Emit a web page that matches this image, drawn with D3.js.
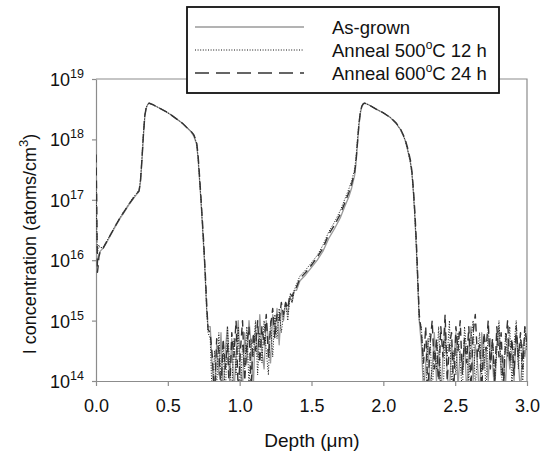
<!DOCTYPE html>
<html>
<head>
<meta charset="utf-8">
<script src="https://cdn.jsdelivr.net/npm/d3@7"></script>
<style>
  body { margin: 0; background: #fff; }
  svg { display: block; font-family: 'Liberation Sans', Arial, sans-serif; }
</style>
</head>
<body>
<svg id="chart" width="547" height="455"></svg>
<script>
// depth grid (um), shared by all three profiles
var depth = [
  0, 0.005, 0.01, 0.015, 0.02, 0.03, 0.05, 0.08, 0.11, 0.14, 0.17, 0.2, 0.23, 0.26, 0.28, 0.3,
  0.31, 0.32, 0.33, 0.34, 0.35, 0.36, 0.37, 0.38, 0.4, 0.44, 0.48, 0.52, 0.56, 0.6, 0.63, 0.66,
  0.68, 0.7, 0.71, 0.72, 0.73, 0.74, 0.75, 0.76, 0.77, 0.78,
  // first background region
  0.795, 0.81, 0.825, 0.84, 0.855, 0.87, 0.885, 0.9, 0.915, 0.93, 0.945, 0.96, 0.975, 0.99,
  1.005, 1.02, 1.035, 1.05, 1.065, 1.08, 1.095, 1.11, 1.125, 1.14, 1.155, 1.17, 1.185, 1.2,
  1.215, 1.23, 1.245, 1.26, 1.275, 1.29, 1.305, 1.32, 1.335, 1.35, 1.365, 1.38, 1.395,
  // second implant
  1.42, 1.46, 1.5, 1.54, 1.58, 1.62, 1.66, 1.7, 1.73, 1.76, 1.78, 1.8, 1.81, 1.82, 1.83, 1.84,
  1.85, 1.86, 1.87, 1.9, 1.95, 2.0, 2.05, 2.09, 2.12, 2.15, 2.17, 2.19, 2.2, 2.21, 2.22, 2.23,
  2.24, 2.25,
  // tail background
  2.265, 2.28, 2.295, 2.31, 2.325, 2.34, 2.355, 2.37, 2.385, 2.4, 2.415, 2.43, 2.445, 2.46,
  2.475, 2.49, 2.505, 2.52, 2.535, 2.55, 2.565, 2.58, 2.595, 2.61, 2.625, 2.64, 2.655, 2.67,
  2.685, 2.7, 2.715, 2.73, 2.745, 2.76, 2.775, 2.79, 2.805, 2.82, 2.835, 2.85, 2.865, 2.88,
  2.895, 2.91, 2.925, 2.94, 2.955, 2.97, 2.985, 3.0
]

// log10 of I concentration (atoms/cm3)
var asGrown = [
  16.3, 16.0, 15.95, 16.05, 16.1, 16.15, 16.2, 16.32, 16.45, 16.58, 16.7, 16.81, 16.92, 17.02, 17.08, 17.14,
  17.3, 17.65, 18.05, 18.38, 18.52, 18.58, 18.6, 18.59, 18.57, 18.52, 18.47, 18.41, 18.34, 18.27, 18.2, 18.13,
  18.06, 17.92, 17.7, 17.35, 17.0, 16.6, 16.2, 15.75, 15.2, 14.9,
  14.9, 14.2, 13.8, 14.6, 14.1, 14.8, 13.7, 14.5, 14.9, 14.0, 14.7, 13.8, 14.4, 15.0,
  14.2, 13.9, 14.8, 14.3, 15.0, 14.6, 13.9, 14.9, 14.4, 15.1, 14.5, 14.2, 15.0, 14.7,
  14.3, 15.1, 14.8, 15.2, 14.6, 15.2, 15.0, 15.3, 15.1, 15.4, 15.3, 15.5, 15.5,
  15.66, 15.76, 15.88, 16.0, 16.15, 16.36, 16.52, 16.7, 16.88, 17.05, 17.2, 17.4, 17.6, 17.92, 18.22, 18.43,
  18.54, 18.58, 18.6, 18.57, 18.5, 18.44, 18.36, 18.26, 18.16, 18.0, 17.82, 17.6, 17.42, 17.1, 16.7, 16.2,
  15.6, 15.0,
  14.6, 13.8, 14.3, 14.7, 13.9, 14.2, 14.8, 14.0, 14.5, 13.7, 14.4, 14.9, 14.1, 13.8,
  14.6, 14.3, 14.8, 13.9, 14.5, 14.2, 14.7, 13.8, 14.4, 14.9, 14.0, 14.6, 14.3, 13.7,
  14.8, 14.2, 14.5, 14.0, 14.7, 14.3, 13.8, 14.6, 14.9, 14.1, 14.4, 13.9, 14.7, 14.2,
  14.5, 14.0, 14.8, 14.3, 13.8, 14.6, 14.4, 14.7
]

var anneal500 = [
  17.3, 16.6, 16.1, 16.2, 16.25, 16.2, 16.22, 16.34, 16.47, 16.6, 16.72, 16.83, 16.94, 17.04, 17.1, 17.16,
  17.35, 17.7, 18.1, 18.4, 18.53, 18.58, 18.6, 18.59, 18.57, 18.52, 18.47, 18.41, 18.34, 18.27, 18.2, 18.14,
  18.08, 17.94, 17.72, 17.38, 17.02, 16.62, 16.22, 15.75, 15.2, 14.8,
  14.7, 13.6, 14.5, 13.9, 14.8, 14.0, 14.6, 13.7, 14.9, 14.3, 13.8, 14.7, 14.1, 14.9,
  13.8, 14.6, 14.2, 14.9, 13.9, 14.7, 14.4, 15.0, 14.1, 14.8, 14.3, 15.0, 14.5, 14.1,
  15.0, 14.4, 15.1, 14.7, 15.2, 14.8, 15.1, 15.3, 15.0, 15.4, 15.3, 15.5, 15.6,
  15.74, 15.84, 15.96, 16.08, 16.25, 16.47, 16.63, 16.82, 17.0, 17.18, 17.32, 17.5, 17.7, 18.0, 18.28, 18.46,
  18.55, 18.59, 18.6, 18.57, 18.5, 18.44, 18.36, 18.26, 18.16, 18.0, 17.82, 17.6, 17.4, 17.1, 16.7, 16.2,
  15.6, 15.0,
  14.9, 14.1, 13.7, 14.6, 14.8, 13.8, 14.5, 14.2, 14.9, 14.0, 13.7, 14.7, 14.4, 15.0,
  13.9, 14.5, 14.1, 14.8, 14.3, 13.8, 14.9, 14.5, 14.0, 14.7, 15.0, 13.9, 14.4, 14.8,
  14.1, 14.6, 13.8, 14.9, 14.3, 14.7, 14.0, 14.5, 15.0, 14.2, 13.8, 14.8, 14.4, 14.9,
  13.9, 14.6, 15.0, 14.2, 14.7, 13.9, 14.9, 14.5
]

var anneal600 = [
  17.75, 17.0, 15.8, 15.9, 16.05, 16.15, 16.2, 16.33, 16.46, 16.59, 16.71, 16.82, 16.93, 17.03, 17.09, 17.15,
  17.33, 17.68, 18.08, 18.4, 18.53, 18.58, 18.6, 18.59, 18.57, 18.52, 18.47, 18.41, 18.34, 18.27, 18.2, 18.14,
  18.08, 17.96, 17.76, 17.42, 17.06, 16.68, 16.28, 15.82, 15.3, 14.85,
  14.8, 14.4, 13.7, 14.7, 14.5, 13.8, 14.7, 14.2, 14.6, 13.7, 14.8, 14.4, 15.0, 13.8,
  14.5, 15.0, 14.0, 14.6, 14.9, 13.9, 14.8, 14.5, 15.0, 14.3, 14.9, 14.6, 15.1, 14.4,
  14.9, 15.2, 14.7, 15.1, 15.0, 15.3, 15.1, 15.3, 15.2, 15.45, 15.4, 15.5, 15.55,
  15.7, 15.8, 15.92, 16.05, 16.2, 16.43, 16.58, 16.76, 16.94, 17.12, 17.27, 17.45, 17.65, 17.95, 18.25, 18.45,
  18.55, 18.59, 18.6, 18.57, 18.5, 18.44, 18.36, 18.27, 18.17, 18.02, 17.85, 17.64, 17.45, 17.15, 16.78, 16.3,
  15.7, 15.1,
  14.8, 14.3, 14.9, 13.8, 14.6, 15.0, 14.2, 14.7, 13.9, 14.9, 14.4, 15.1, 14.0, 14.6,
  14.8, 13.8, 14.9, 14.5, 15.0, 14.1, 14.7, 14.3, 14.9, 13.9, 14.8, 15.1, 14.4, 14.6,
  13.8, 14.8, 14.5, 15.0, 14.2, 14.7, 14.0, 14.9, 14.4, 14.8, 13.9, 14.6, 15.0, 14.3,
  14.7, 14.1, 14.9, 14.4, 14.8, 14.2, 14.9, 14.6
]

var xTicks = [0, 0.5, 1, 1.5, 2, 2.5, 3]
var yExps = [14, 15, 16, 17, 18, 19]

var series = [
  { name: 'As-grown', values: asGrown, stroke: '#9a9a9a', width: 1.3, dash: null, legendDash: null },
  { name: 'Anneal 500|C 12 h', values: anneal500, stroke: '#111', width: 1, dash: '1,1.6', legendDash: '1,1.6' },
  { name: 'Anneal 600|C 24 h', values: anneal600, stroke: '#333', width: 1.4, dash: '8,5', legendDash: '14,7' }
]

var margin = { left: 96, top: 79, right: 527, bottom: 381 }

var svg = d3.select('#chart')

var x = d3.scaleLinear().domain([0, 3]).range([margin.left, margin.right])
var y = d3.scaleLog().domain([1e14, 1e19]).range([margin.bottom, margin.top])

svg.append('clipPath').attr('id', 'plot-clip')
  .append('rect')
  .attr('x', margin.left).attr('y', margin.top)
  .attr('width', margin.right - margin.left)
  .attr('height', margin.bottom - margin.top)

// frame (top and right)
svg.append('path')
  .attr('d', 'M' + margin.left + ',' + margin.top + 'H' + margin.right + 'V' + margin.bottom)
  .attr('fill', 'none')
  .attr('stroke', '#8c8c8c')
  .attr('stroke-width', 1.2)

var xAxis = svg.append('g')
  .attr('transform', 'translate(0,' + margin.bottom + ')')
  .call(d3.axisBottom(x).tickValues(xTicks).tickSize(5).tickSizeOuter(0).tickFormat(d3.format('.1f')))
xAxis.selectAll('path, line').attr('stroke', '#8c8c8c').attr('stroke-width', 1.2)
xAxis.selectAll('text')
  .attr('font-size', 18)
  .attr('font-family', "'Liberation Sans', Arial, sans-serif")
  .attr('fill', '#111')
  .attr('dy', null)
  .attr('y', 31)

var yAxis = svg.append('g')
  .attr('transform', 'translate(' + margin.left + ',0)')
  .call(d3.axisLeft(y).tickValues(yExps.map(function (e) { return Math.pow(10, e) })).tickSize(4).tickSizeOuter(0).tickFormat(''))
yAxis.selectAll('path, line').attr('stroke', '#8c8c8c').attr('stroke-width', 1.2)

var yLabels = svg.append('g')
  .selectAll('text')
  .data(yExps)
  .join('text')
  .attr('x', 84)
  .attr('y', function (e) { return y(Math.pow(10, e)) + 7 })
  .attr('text-anchor', 'end')
  .attr('fill', '#111')
  .attr('font-size', 18)
yLabels.append('tspan').text('10')
yLabels.append('tspan').attr('font-size', 12.5).attr('dy', -8).text(function (e) { return e })

// axis titles
svg.append('text')
  .attr('x', 312).attr('y', 447)
  .attr('text-anchor', 'middle')
  .attr('font-size', 19)
  .attr('fill', '#111')
  .text('Depth (\u03bcm)')

var yTitle = svg.append('text')
  .attr('transform', 'translate(36,244) rotate(-90)')
  .attr('text-anchor', 'middle')
  .attr('font-size', 18)
  .attr('fill', '#111')
yTitle.append('tspan').text('I concentration (atoms/cm')
yTitle.append('tspan').attr('font-size', 13).attr('dy', -8).text('3')
yTitle.append('tspan').attr('dy', 8).text(')')

// profiles
var line = d3.line()
  .x(function (d, i) { return x(depth[i]) })
  .y(function (d) { return y(Math.pow(10, d)) })

var plot = svg.append('g').attr('clip-path', 'url(#plot-clip)')
plot.selectAll('path')
  .data(series)
  .join('path')
  .attr('d', function (s) { return line(s.values) })
  .attr('fill', 'none')
  .attr('stroke', function (s) { return s.stroke })
  .attr('stroke-width', function (s) { return s.width })
  .attr('stroke-dasharray', function (s) { return s.dash })
  .attr('stroke-linejoin', 'round')

// legend
var legend = svg.append('g')
legend.append('rect')
  .attr('x', 187).attr('y', 7)
  .attr('width', 312).attr('height', 86)
  .attr('fill', '#fff')
  .attr('stroke', '#111')
  .attr('stroke-width', 1.8)

var rows = legend.selectAll('g.row')
  .data(series)
  .join('g')
  .attr('class', 'row')
  .attr('transform', function (s, i) { return 'translate(0,' + (27 + i * 23) + ')' })

rows.append('line')
  .attr('x1', 195).attr('x2', 304)
  .attr('stroke', function (s) { return s.stroke })
  .attr('stroke-width', function (s) { return s.width })
  .attr('stroke-dasharray', function (s) { return s.legendDash })

var labels = rows.append('text')
  .attr('x', 332).attr('y', 7)
  .attr('font-size', 18.5)
  .attr('fill', '#111')
labels.each(function (s) {
  var parts = s.name.split('|')
  var t = d3.select(this)
  t.append('tspan').text(parts[0])
  if (parts.length > 1) {
    t.append('tspan').attr('font-size', 12).attr('dy', -8).text('o')
    t.append('tspan').attr('dy', 8).text(parts[1])
  }
})
</script>
</body>
</html>
